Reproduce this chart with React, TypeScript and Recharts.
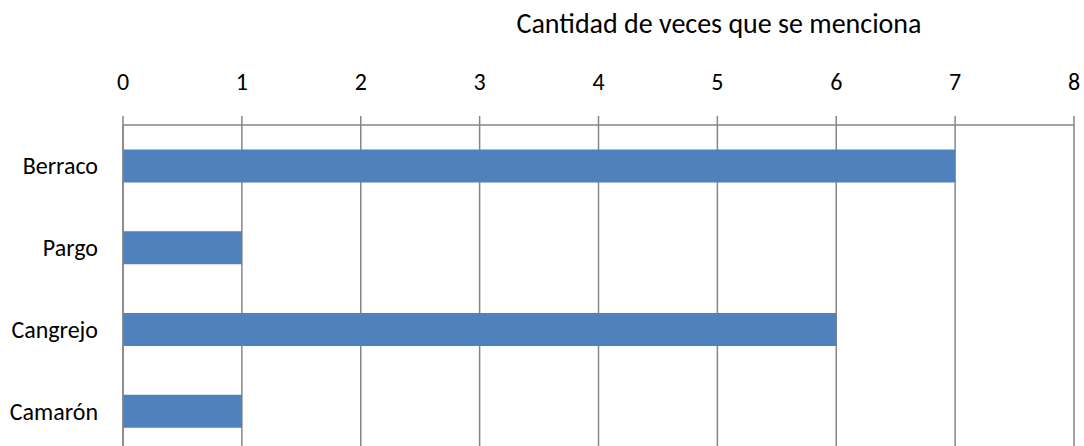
import React from "react";
import { BarChart, Bar, XAxis, YAxis, CartesianGrid } from "recharts";

const categories = ["Berraco", "Pargo", "Cangrejo", "Camarón"];
const counts = [7, 1, 6, 1];
const xTicks = [0, 1, 2, 3, 4, 5, 6, 7, 8];
const axisTitle = "Cantidad de veces que se menciona";

const data = categories.map((name, i) => ({ name, value: counts[i] }));

const GRAY = "#868686";
const FONT = "Carlito, Calibri, 'Open Sans', sans-serif";

export default function App() {
  return (
    <div style={{ position: "absolute", left: 0, top: 0, width: 1084, height: 446, overflow: "hidden", background: "#fff" }}>
      <div
        style={{
          position: "absolute",
          left: 419,
          width: 600,
          textAlign: "center",
          top: 6,
          fontFamily: FONT,
          fontSize: 28,
          color: "#000",
          whiteSpace: "nowrap",
        }}
      >
        {axisTitle}
      </div>
      <BarChart
        width={1084}
        height={460}
        data={data}
        layout="vertical"
        margin={{ top: 0, right: 10, bottom: 8, left: 0 }}
        barCategoryGap="30%"
      >
        <CartesianGrid horizontal={false} vertical={true} stroke={GRAY} strokeWidth={1.5} />
        <XAxis
          type="number"
          orientation="top"
          domain={[0, 8]}
          ticks={xTicks}
          interval={0}
          height={125}
          tickSize={9}
          tickMargin={26}
          stroke={GRAY}
          strokeWidth={1.5}
          tick={{ fill: "#000", fontSize: 24, fontFamily: FONT }}
        />
        <YAxis
          type="category"
          dataKey="name"
          width={123}
          tickLine={false}
          tickMargin={19}
          stroke={GRAY}
          strokeWidth={1.5}
          tick={{ fill: "#000", fontSize: 24, fontFamily: FONT }}
        />
        <Bar dataKey="value" fill="#4F81BD" isAnimationActive={false} />
      </BarChart>
    </div>
  );
}
